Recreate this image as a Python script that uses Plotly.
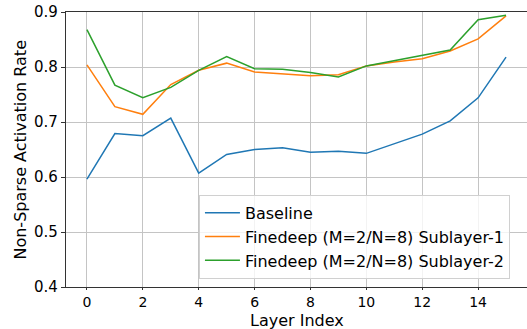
import plotly.graph_objects as go

layers = list(range(16))
baseline = [0.596, 0.679, 0.675, 0.707, 0.607, 0.641, 0.650, 0.653,
            0.645, 0.647, 0.643, 0.661, 0.678, 0.702, 0.744, 0.818]
sublayer1 = [0.804, 0.728, 0.714, 0.768, 0.794, 0.807, 0.791, 0.787,
             0.784, 0.786, 0.802, 0.809, 0.815, 0.829, 0.851, 0.893]
sublayer2 = [0.868, 0.767, 0.744, 0.763, 0.794, 0.819, 0.797, 0.796,
             0.790, 0.782, 0.802, 0.812, 0.822, 0.831, 0.886, 0.894]
names = ["Baseline", "Finedeep (M=2/N=8) Sublayer-1", "Finedeep (M=2/N=8) Sublayer-2"]
colors = ["#1f77b4", "#ff7f0e", "#2ca02c"]

fig = go.Figure()
for name, vals, c in zip(names, [baseline, sublayer1, sublayer2], colors):
    fig.add_trace(go.Scatter(x=layers, y=vals, mode="lines", name=name,
                             line=dict(color=c, width=1.5)))

font = "DejaVu Sans"
axis_common = dict(showline=True, linecolor="#333333", linewidth=1.2, mirror=True,
                   ticks="outside", tickcolor="#333333",
                   showgrid=True, gridcolor="#c4c4c4", gridwidth=1, zeroline=False)
fig.update_layout(
    width=527, height=329,
    margin=dict(l=66, r=0, t=12, b=42),
    paper_bgcolor="white", plot_bgcolor="white",
    font=dict(family=font, size=16, color="#000000"),
    xaxis=dict(range=[-0.75, 15.75], tickvals=list(range(0, 16, 2)), ticklen=2,
               tickfont=dict(size=14, color="#000000", family=font), **axis_common),
    yaxis=dict(range=[0.4, 0.9], tickvals=[0.4, 0.5, 0.6, 0.7, 0.8, 0.9],
               ticktext=["0.4", "0.5", "0.6", "0.7", "0.8", "0.9"], ticklen=4,
               tickfont=dict(size=15, color="#000000", family=font), **axis_common),
    legend=dict(x=0.963, y=0.03, xanchor="right", yanchor="bottom",
                bgcolor="rgba(255,255,255,0.8)", bordercolor="#d0d0d0", borderwidth=1,
                font=dict(size=16, family=font), itemwidth=35, tracegroupgap=0),
    showlegend=True,
    annotations=[
        dict(text="Layer Index", xref="paper", yref="paper", x=0.5, y=-0.122,
             xanchor="center", yanchor="middle", showarrow=False, font=dict(size=16)),
        dict(text="Non-Sparse Activation Rate", xref="paper", yref="paper",
             x=-0.0997, y=0.5, xanchor="center", yanchor="middle", textangle=-90,
             showarrow=False, font=dict(size=16)),
    ],
)
fig.write_html("out.html")
